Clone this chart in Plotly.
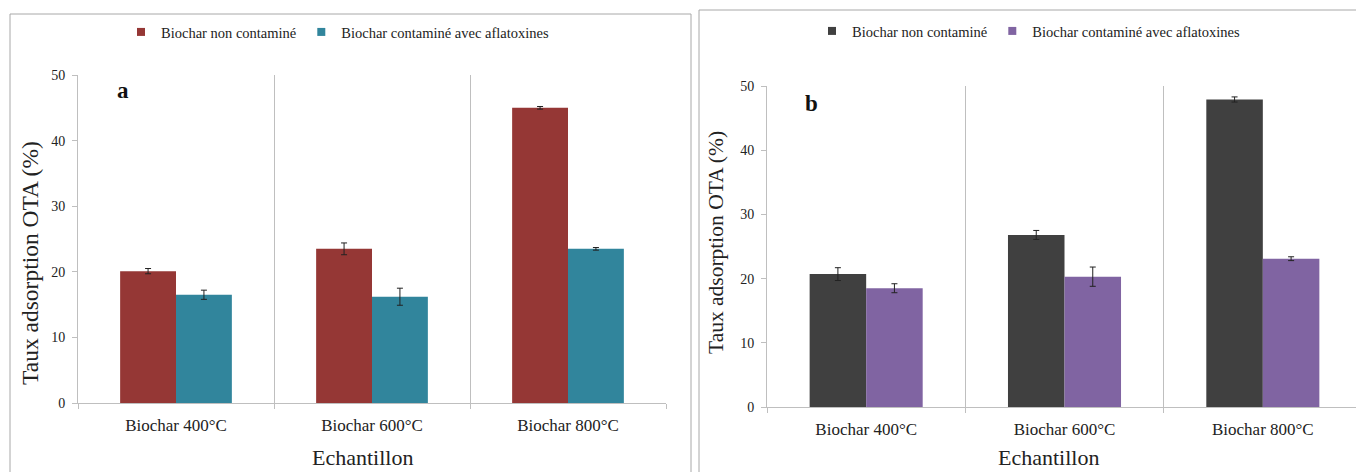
import plotly.graph_objects as go
from plotly.subplots import make_subplots

categories = ["Biochar 400°C", "Biochar 600°C", "Biochar 800°C"]

# panel a
a_non = [20.1, 23.5, 45.0]
a_non_err = [0.4, 0.9, 0.2]
a_afla = [16.5, 16.2, 23.5]
a_afla_err = [0.7, 1.3, 0.2]

# panel b
b_non = [20.7, 26.8, 47.9]
b_non_err = [1.0, 0.7, 0.4]
b_afla = [18.5, 20.3, 23.1]
b_afla_err = [0.7, 1.5, 0.3]

name_non = "Biochar non contaminé"
name_afla = "Biochar contaminé avec aflatoxines"
x_title = "Echantillon"
y_title = "Taux adsorption OTA (%)"

W, H = 1364, 472
OFF = 8  # page body margin
FONT = "Liberation Serif"
AXIS_GRAY = "#bfbfbf"
TXT = "#222"

fig = make_subplots(rows=1, cols=2)


def add_pair(col, v1, e1, c1, v2, e2, c2, legend):
    for vals, errs, color, name in ((v1, e1, c1, name_non), (v2, e2, c2, name_afla)):
        fig.add_trace(go.Bar(
            x=categories, y=vals, name=name, showlegend=False,
            marker=dict(color=color, line=dict(width=0)),
            error_y=dict(type="data", array=errs, color=TXT, thickness=1, width=3),
        ), row=1, col=col)
        # small square legend key, like the original
        fig.add_trace(go.Scatter(
            x=[None], y=[None], mode="markers", name=name, legend=legend,
            marker=dict(symbol="square", size=8, color=color),
        ), row=1, col=col)


add_pair(1, a_non, a_non_err, "#953735", a_afla, a_afla_err, "#31859C", "legend")
add_pair(2, b_non, b_non_err, "#404040", b_afla, b_afla_err, "#8064A2", "legend2")

# screen pixel -> paper fraction
px = lambda v: (v - OFF) / W
py = lambda v: 1 - (v - OFF) / H

leg = dict(orientation="h", xanchor="left", yanchor="middle",
           font=dict(size=14.5, family=FONT, color=TXT), traceorder="normal",
           bgcolor="rgba(0,0,0,0)")

fig.update_layout(
    width=W, height=H,
    margin=dict(l=0, r=0, t=0, b=0, autoexpand=False),
    paper_bgcolor="white", plot_bgcolor="white",
    font=dict(family=FONT, color=TXT, size=14),
    barmode="group", bargap=0.43, bargroupgap=0,
    legend=dict(leg, x=px(121), y=py(32)),
    legend2=dict(leg, x=px(812), y=py(31)),
    xaxis=dict(domain=[px(78), px(666)]),
    xaxis2=dict(domain=[px(767), px(1362)]),
    yaxis=dict(domain=[py(403), py(75)]),
    yaxis2=dict(domain=[py(407), py(86)]),
)

fig.update_xaxes(
    type="category", tickson="boundaries", ticks="outside", ticklen=5, tickcolor=AXIS_GRAY,
    showgrid=True, gridcolor=AXIS_GRAY, gridwidth=1, automargin=False,
    showline=True, linecolor=AXIS_GRAY, linewidth=1, ticklabelstandoff=7,
    tickfont=dict(size=17, family=FONT, color=TXT),
)
fig.update_yaxes(
    range=[0, 50], dtick=10, ticks="outside", ticklen=5, tickcolor=AXIS_GRAY,
    showgrid=False, zeroline=False, automargin=False,
    showline=True, linecolor=AXIS_GRAY, linewidth=1, ticklabelstandoff=4,
    tickfont=dict(size=14, family=FONT, color=TXT),
)

# axis titles (placed like the original, slightly off-centre)
for (xx, yy), size in (((362, 457), 22), ((1048, 457), 22)):
    fig.add_annotation(text=x_title, xref="paper", yref="paper", x=px(xx), y=py(yy),
                       xanchor="center", yanchor="middle", showarrow=False,
                       font=dict(size=size, family=FONT, color=TXT))
for (xx, yy), size in (((30, 263), 23.5), ((716, 243), 21.5)):
    fig.add_annotation(text=y_title, xref="paper", yref="paper", x=px(xx), y=py(yy),
                       xanchor="center", yanchor="middle", showarrow=False, textangle=-90,
                       font=dict(size=size, family=FONT, color=TXT))

# panel frames
FRAME = "#a8a8a8"
fig.add_shape(type="rect", xref="paper", yref="paper",
              x0=px(10), x1=px(691), y0=py(490), y1=py(14),
              line=dict(color=FRAME, width=1), layer="below")
fig.add_shape(type="rect", xref="paper", yref="paper",
              x0=px(699), x1=px(1363), y0=py(490), y1=py(10),
              line=dict(color=FRAME, width=1), layer="below")

# panel letters
fig.add_annotation(text="<b>a</b>", xref="x domain", yref="y domain", x=0.0765, y=0.954,
                   xanchor="center", yanchor="middle",
                   showarrow=False, font=dict(size=23, family=FONT, color="#111"))
fig.add_annotation(text="<b>b</b>", xref="x2 domain", yref="y2 domain", x=0.0755, y=0.944,
                   xanchor="center", yanchor="middle",
                   showarrow=False, font=dict(size=23, family=FONT, color="#111"))

fig.write_html("out.html")
